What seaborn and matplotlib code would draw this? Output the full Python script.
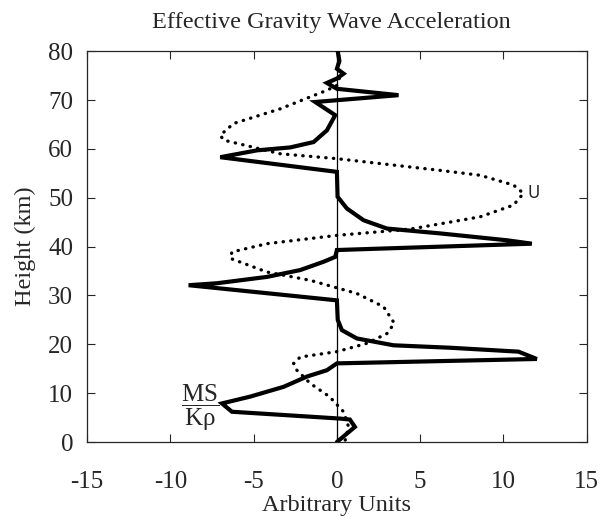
import matplotlib
matplotlib.use("Agg")
import matplotlib.pyplot as plt
import seaborn as sns
import pandas as pd

# Solid curve: MS / (K rho)
ms_height = [0, 3.1, 4.6, 4.8, 6.2, 7.9, 9.3, 11.3, 13.4, 14.7, 16.1, 17.0, 18.5, 19.3,
             19.8, 21.2, 22.9, 25.0, 29.0, 32.1, 32.5, 33.8, 35.2, 36.9, 37.9, 39.3,
             40.6, 41.3, 42.7, 43.7, 45.4, 47.8, 50.2, 55.3, 58.3, 59.7, 60.3, 61.4,
             63.8, 66.9, 69.6, 71.0, 72.3, 73.5, 74.4, 75.4, 76.4, 78.0, 80.0]
ms_value = [0, 1.08, 0.78, 0.2, -6.3, -6.9, -5.2, -3.2, -1.8, -0.6, 0, 12.0, 10.9, 6.8,
            3.4, 1.2, 0.3, 0.05, 0, -8.9, -7.2, -4.2, -2.2, -0.8, -0.1, 0,
            11.7, 10.2, 6.2, 3.0, 1.6, 0.6, 0.04, 0, -7.0, -4.8, -2.8, -1.4,
            -0.6, -0.1, -1.3, 3.7, 0, -0.6, 0, 0.4, 0, 0.15, 0.05]

# Dotted curve: U
u_height = [0.4, 3.1, 6.2, 9.3, 12.0, 14.7, 16.1, 17.4, 18.5, 20.2, 22.2, 24.3, 27.7,
            30.4, 33.1, 34.8, 37.6, 38.9, 40.6, 42.3, 43.4, 43.7, 46.1, 48.5, 50.9,
            52.6, 54.6, 55.6, 58.0, 59.0, 61.8, 62.8, 65.2, 68.2, 72.0, 73.0, 75.0,
            77.0, 80.0]
u_value = [0.5, 0.7, 0.4, -0.45, -1.6, -2.4, -2.6, -2.2, 0, 1.8, 3.0, 3.45, 2.8,
           1.2, -1.6, -4.2, -6.4, -6.3, -4.2, 0, 3.8, 4.6, 8.6, 10.6, 11.2,
           10.6, 8.6, 6.2, 0, -3.4, -6.8, -7.0, -6.2, -3.4, -0.6, 0, 0.2,
           0.1, 0.1]

x_ticks = [-15, -10, -5, 0, 5, 10, 15]
y_ticks = [0, 10, 20, 30, 40, 50, 60, 70, 80]

sns.set_style("ticks")
plt.rcParams["font.family"] = ["Liberation Serif", "DejaVu Serif"]
plt.rcParams["mathtext.fontset"] = "custom"
plt.rcParams["mathtext.rm"] = "Liberation Serif"
plt.rcParams["mathtext.it"] = "Liberation Serif:italic"

fig = plt.figure(figsize=(6.0, 5.17), dpi=100)
ax = fig.add_axes([0.145, 0.145, 0.833, 0.756])

df_ms = pd.DataFrame({"value": ms_value, "height": ms_height})
df_u = pd.DataFrame({"value": u_value, "height": u_height})

ax.axvline(0, color="black", lw=0.9, zorder=1)

sns.lineplot(data=df_ms, x="value", y="height", sort=False, estimator=None,
             color="black", lw=3.0, ax=ax, zorder=3,
             solid_joinstyle="miter")
sns.lineplot(data=df_u, x="value", y="height", sort=False, estimator=None,
             color="black", lw=2.4, ax=ax, zorder=2)
ax.lines[-1].set_linestyle((0, (0.1, 2.2)))
ax.lines[-1].set_dash_capstyle("round")

ax.set_xlim(-15, 15)
ax.set_ylim(0, 80)
ax.set_xticks(x_ticks)
ax.set_yticks(y_ticks)
ax.set_xticklabels([str(t) for t in x_ticks])
ax.set_yticklabels([str(t) for t in y_ticks])
ax.tick_params(direction="in", length=6, width=0.8, top=True, right=True,
               labelsize=18)
ax.tick_params(axis="x", pad=21)
ax.tick_params(axis="y", pad=10)
for s in ax.spines.values():
    s.set_visible(True)
    s.set_linewidth(0.9)

ax.set_xlabel("Arbitrary Units", fontsize=17.5, labelpad=1)
ax.set_ylabel("Height (km)", fontsize=17.5, labelpad=9)
fig.text(0.5525, 0.957, "Effective Gravity Wave Acceleration", ha="center",
         va="center", fontsize=17.5)

ax.text(11.45, 50.9, "U", fontsize=12, family="DejaVu Sans", ha="left", va="center")
ax.text(-8.2, 7.0, "$\\dfrac{\\mathrm{MS}}{\\mathrm{K\u03c1}}$", fontsize=18,
        ha="center", va="center")

fig.savefig("out.png", dpi=100)
